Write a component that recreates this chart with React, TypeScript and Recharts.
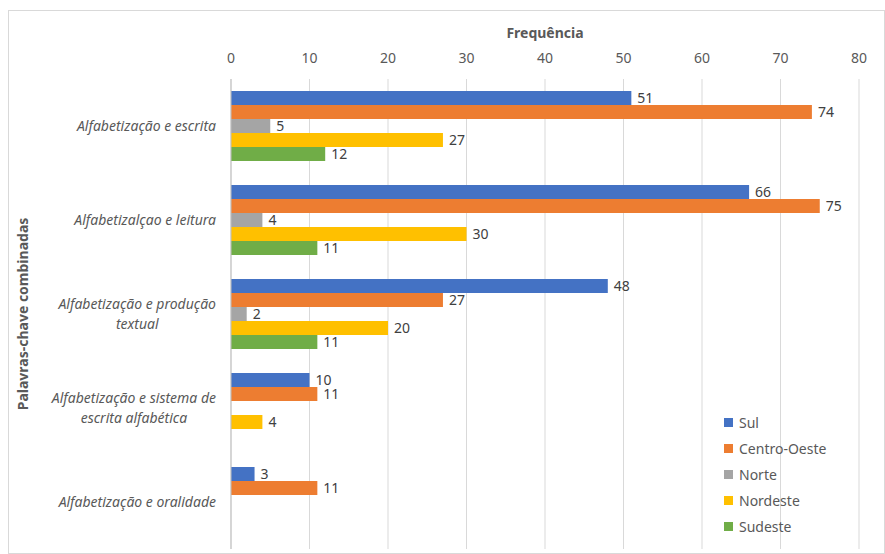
import React from 'react';
import { BarChart, Bar, XAxis, YAxis, CartesianGrid, Legend, LabelList } from 'recharts';

const categories = [
  'Alfabetização e escrita',
  'Alfabetizalçao e leitura',
  'Alfabetização e produção textual',
  'Alfabetização e sistema de escrita alfabética',
  'Alfabetização e oralidade',
];
const sul = [51, 66, 48, 10, 3];
const centroOeste = [74, 75, 27, 11, 11];
const norte = [5, 4, 2, null, null];
const nordeste = [27, 30, 20, 4, null];
const sudeste = [12, 11, 11, null, null];
const xTicks = [0, 10, 20, 30, 40, 50, 60, 70, 80];

const series = [
  { key: 'sul', name: 'Sul', color: '#4472C4', values: sul },
  { key: 'centroOeste', name: 'Centro-Oeste', color: '#ED7D31', values: centroOeste },
  { key: 'norte', name: 'Norte', color: '#A5A5A5', values: norte },
  { key: 'nordeste', name: 'Nordeste', color: '#FFC000', values: nordeste },
  { key: 'sudeste', name: 'Sudeste', color: '#70AD47', values: sudeste },
];

const data = categories.map((name, i) => {
  const row: Record<string, string | number | null> = { name };
  series.forEach((s) => { row[s.key] = s.values[i]; });
  return row;
});

const FONT = '"Noto Sans", "Open Sans", sans-serif';
const TEXT = '#595959';
const CAT_SIZE = 14;

let ctx: CanvasRenderingContext2D | null = null;
const measure = (t: string) => {
  if (!ctx) ctx = document.createElement('canvas').getContext('2d');
  if (!ctx) return t.length * 7;
  ctx.font = `italic ${CAT_SIZE}px "Noto Sans"`;
  return ctx.measureText(t).width;
};

// greedy word wrap, Excel-style
const wrap = (label: string, maxW: number) => {
  const lines: string[] = [];
  let cur = '';
  label.split(' ').forEach((w) => {
    const next = cur ? cur + ' ' + w : w;
    if (cur && measure(next) > maxW) {
      lines.push(cur);
      cur = w;
    } else cur = next;
  });
  if (cur) lines.push(cur);
  return lines;
};

const CategoryTick = (props: any) => {
  const { x, y, payload } = props;
  const lines = wrap(payload.value, 195);
  const blockW = Math.max(...lines.map(measure));
  const cx = x - blockW / 2;
  const lh = 20;
  const startY = y - ((lines.length - 1) * lh) / 2;
  return (
    <g>
      {lines.map((l, i) => (
        <text key={i} x={lines.length > 1 ? cx : x} y={startY + i * lh} dy="0.35em"
          textAnchor={lines.length > 1 ? 'middle' : 'end'}
          fill={TEXT} fontSize={CAT_SIZE} fontStyle="italic" fontFamily={FONT}>
          {l}
        </text>
      ))}
    </g>
  );
};

const ValueTick = (props: any) => {
  const { x, y, payload } = props;
  return (
    <text x={x} y={y} dy="0.35em" textAnchor="middle" fill={TEXT} fontSize={14} fontFamily={FONT}>
      {payload.value}
    </text>
  );
};

const LegendBox = () => (
  <div style={{ fontFamily: FONT, fontSize: 14, color: TEXT }}>
    {series.map((s) => (
      <div key={s.key} style={{ display: 'flex', alignItems: 'center', height: 26 }}>
        <span style={{ width: 9, height: 9, background: s.color, marginRight: 6, display: 'inline-block' }} />
        <span>{s.name}</span>
      </div>
    ))}
  </div>
);

export default function App() {
  return (
    <div style={{ position: 'fixed', left: 8, top: 10, width: 877, height: 544, border: '1px solid #d9d9d9', boxSizing: 'border-box', background: '#fff' }}>
      <BarChart
        width={875}
        height={542}
        data={data}
        layout="vertical"
        margin={{ top: 0, right: 25, bottom: 4, left: 0 }}
        barCategoryGap={12}
        barGap={0}
      >
        <CartesianGrid horizontal={false} stroke="#d9d9d9" />
        <XAxis
          type="number"
          orientation="top"
          domain={[0, 80]}
          ticks={xTicks}
          axisLine={false}
          tickLine={false}
          tickSize={0}
          tickMargin={21}
          height={68}
          tick={<ValueTick />}
          label={{
            content: ({ viewBox }: any) => (
              <text x={viewBox.x + viewBox.width / 2} y={22} dy="0.35em" textAnchor="middle"
                fill={TEXT} fontSize={14} fontWeight="bold" fontFamily={FONT}>
                Frequência
              </text>
            ),
          }}
        />
        <YAxis
          type="category"
          dataKey="name"
          width={222}
          axisLine={{ stroke: '#bfbfbf' }}
          tickLine={false}
          tickSize={0}
          tickMargin={15}
          interval={0}
          tick={<CategoryTick />}
          label={{
            content: ({ viewBox }: any) => {
              const cx = 14;
              const cy = viewBox.y + viewBox.height / 2;
              return (
                <text x={cx} y={cy} dy="0.35em" textAnchor="middle" transform={`rotate(-90 ${cx} ${cy})`}
                  fill={TEXT} fontSize={14} fontWeight="bold" fontFamily={FONT}>
                  Palavras-chave  combinadas
                </text>
              );
            },
          }}
        />
        <Legend
          layout="vertical"
          align="center"
          verticalAlign="middle"
          content={<LegendBox />}
          wrapperStyle={{ position: 'absolute', left: 715, top: 398, width: 140 }}
        />
        {series.map((s) => (
          <Bar key={s.key} dataKey={s.key} name={s.name} fill={s.color} isAnimationActive={false}>
            <LabelList dataKey={s.key} position="right" offset={6} fill="#404040" fontSize={14} fontFamily={FONT} />
          </Bar>
        ))}
      </BarChart>
    </div>
  );
}
